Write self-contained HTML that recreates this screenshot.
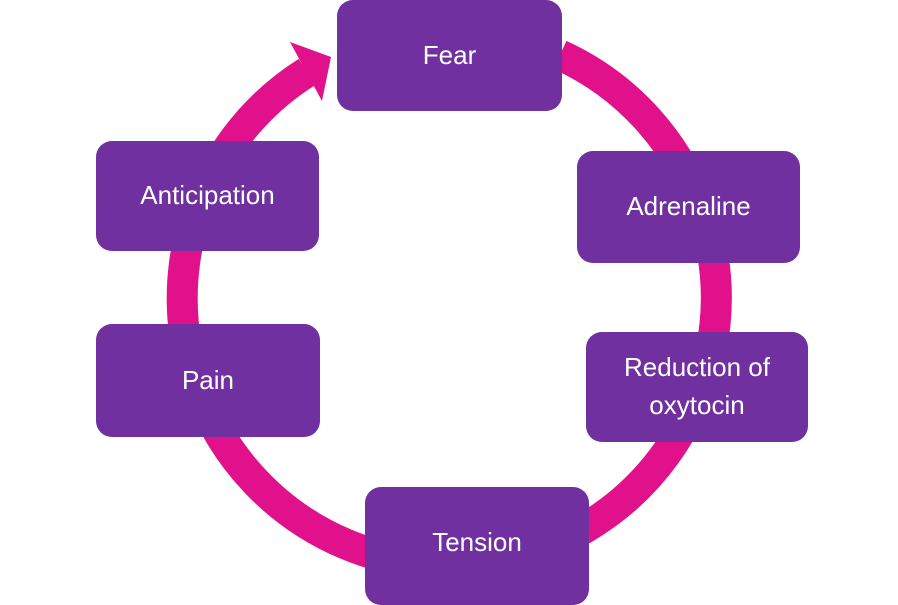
<!DOCTYPE html>
<html><head><meta charset="utf-8"><style>
body{margin:0;width:898px;height:599px;background:#fff;overflow:hidden;position:relative;font-family:"Liberation Sans",sans-serif}
.b{position:absolute;background:#7030A0;border-radius:16px;color:#fff;display:flex;align-items:center;justify-content:center;text-align:center;font-size:26px;line-height:1.45}
svg{position:absolute;left:0;top:0}
</style></head><body>
<svg width="898" height="599">
<path d="M307 72 A267 267 0 1 0 560 55" fill="none" stroke="#E0118A" stroke-width="31"/>
<polygon points="290,42 331,57 322,101" fill="#E0118A"/>
</svg>
<div class="b" style="left:337px;top:0;width:225px;height:111px">Fear</div>
<div class="b" style="left:577px;top:151px;width:223px;height:112px">Adrenaline</div>
<div class="b" style="left:586px;top:332px;width:222px;height:110px">Reduction of<br>oxytocin</div>
<div class="b" style="left:365px;top:487px;width:224px;height:118px;padding-bottom:6px;box-sizing:border-box">Tension</div>
<div class="b" style="left:96px;top:324px;width:224px;height:113px">Pain</div>
<div class="b" style="left:96px;top:141px;width:223px;height:110px">Anticipation</div>
</body></html>
